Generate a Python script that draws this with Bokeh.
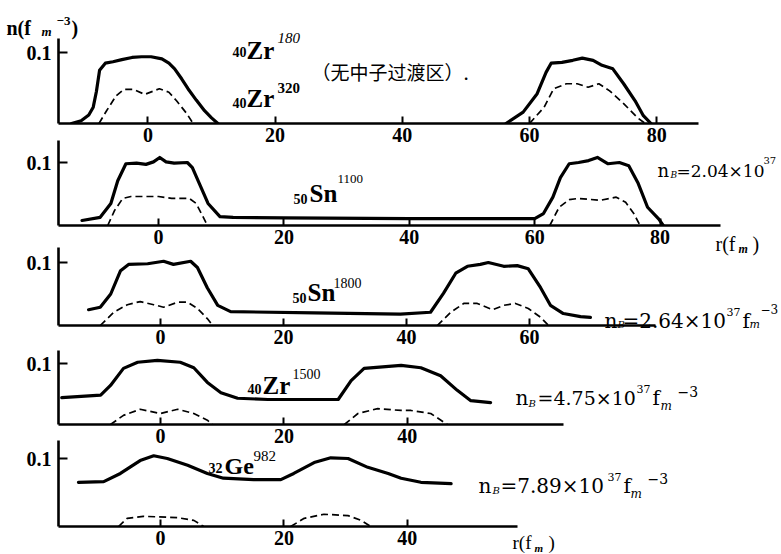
from bokeh.plotting import figure
from bokeh.models import Range1d, FixedTicker, Label, GridBox
from bokeh.embed import file_html
from bokeh.resources import INLINE

# ---------------- data (r in fm, n in fm^-3) ----------------
# Panel 1: 40Zr180 (solid), 40Zr320 (dashed) - no neutron transition region
zr180_r_a = [-12.0, -10.5, -9.3, -8.6, -8.1, -7.6, -6.7, -5.5, -4.1, -2.5, -1.0, 0.5, 2.2, 3.3, 4.2, 5.3, 6.3, 7.6, 8.9, 10.0, 11.0]
zr180_n_a = [0.0, 0.004, 0.012, 0.023, 0.045, 0.075, 0.085, 0.087, 0.090, 0.093, 0.094, 0.094, 0.091, 0.085, 0.077, 0.063, 0.049, 0.033, 0.018, 0.008, 0.0]
zr180_r_b = [56.3, 59.0, 61.2, 62.6, 63.4, 65.1, 66.8, 68.3, 70.0, 71.4, 73.1, 74.8, 76.6, 77.9, 79.1]
zr180_n_b = [0.0, 0.016, 0.042, 0.072, 0.085, 0.086, 0.089, 0.092, 0.089, 0.082, 0.077, 0.056, 0.032, 0.011, 0.0]
zr320_r_a = [-7.7, -6.5, -5.0, -3.8, -2.3, -0.5, 1.8, 3.3, 4.5, 6.1, 7.1]
zr320_n_a = [0.0, 0.018, 0.039, 0.048, 0.048, 0.041, 0.049, 0.044, 0.032, 0.014, 0.0]
zr320_r_b = [60.0, 62.3, 63.8, 65.8, 67.5, 69.2, 70.9, 72.6, 74.8, 77.0, 78.2]
zr320_n_b = [0.0, 0.023, 0.049, 0.056, 0.056, 0.051, 0.056, 0.046, 0.028, 0.008, 0.0]

# Panel 2: 50Sn1100, nB = 2.04e37
sn1100_r = [-12.2, -9.3, -7.6, -6.5, -5.2, -3.5, -2.0, -0.8, 0.2, 1.2, 2.5, 4.6, 5.4, 6.5, 7.9, 9.8, 11.9, 20.0, 40.0, 60.0, 61.4, 62.9, 64.1, 65.5, 67.0, 68.6, 70.0, 71.7, 73.5, 75.0, 76.5, 78.0, 79.8, 80.5]
sn1100_n = [0.008, 0.013, 0.035, 0.071, 0.098, 0.099, 0.097, 0.101, 0.108, 0.101, 0.099, 0.100, 0.092, 0.067, 0.035, 0.014, 0.013, 0.012, 0.011, 0.011, 0.019, 0.045, 0.076, 0.098, 0.100, 0.103, 0.108, 0.098, 0.100, 0.095, 0.067, 0.029, 0.010, 0.0]
sn1100d_r_a = [-8.1, -7.0, -5.7, -4.4, 0.0, 2.1, 4.9, 6.0, 7.0, 7.8]
sn1100d_n_a = [0.0, 0.024, 0.043, 0.046, 0.046, 0.043, 0.043, 0.035, 0.016, 0.0]
sn1100d_r_b = [62.4, 63.9, 65.5, 67.0, 70.5, 73.0, 74.5, 75.8, 76.8]
sn1100d_n_b = [0.0, 0.029, 0.041, 0.043, 0.040, 0.045, 0.037, 0.019, 0.0]

# Panel 3: 50Sn1800, nB = 2.64e37
sn1800_r = [-11.7, -9.8, -8.1, -6.5, -5.2, -2.1, 0.5, 2.1, 4.9, 6.0, 7.6, 9.3, 11.4, 25.0, 39.0, 43.9, 46.0, 48.0, 49.9, 52.0, 53.3, 55.8, 58.0, 59.8, 61.8, 63.4, 65.5, 68.3, 69.9]
sn1800_n = [0.025, 0.029, 0.050, 0.087, 0.097, 0.098, 0.102, 0.097, 0.102, 0.092, 0.060, 0.032, 0.022, 0.020, 0.018, 0.021, 0.051, 0.083, 0.094, 0.097, 0.100, 0.094, 0.095, 0.090, 0.060, 0.032, 0.019, 0.014, 0.013]
sn1800d_r_a = [-9.8, -7.6, -5.4, -3.3, -1.1, 0.5, 2.8, 4.4, 6.0, 7.6, 8.5]
sn1800d_n_a = [0.0, 0.021, 0.033, 0.038, 0.033, 0.029, 0.037, 0.037, 0.027, 0.011, 0.0]
sn1800d_r_b = [45.0, 47.2, 49.3, 51.5, 54.0, 55.8, 57.7, 59.8, 61.8, 63.1]
sn1800d_n_b = [0.0, 0.021, 0.035, 0.035, 0.025, 0.032, 0.035, 0.027, 0.013, 0.0]

# Panel 4: 40Zr1500, nB = 4.75e37
zr1500_r = [-16.0, -9.7, -8.1, -6.0, -3.7, -0.5, 3.2, 5.4, 7.6, 9.8, 12.5, 17.4, 28.8, 30.9, 33.0, 39.0, 42.2, 45.4, 48.1, 50.3, 53.5]
zr1500_n = [0.044, 0.048, 0.064, 0.092, 0.102, 0.105, 0.102, 0.093, 0.069, 0.052, 0.043, 0.041, 0.041, 0.072, 0.092, 0.097, 0.093, 0.080, 0.056, 0.039, 0.036]
zr1500d_r_a = [-8.1, -6.0, -3.3, 0.0, 2.8, 5.4, 7.6, 8.4]
zr1500d_n_a = [0.0, 0.015, 0.025, 0.018, 0.025, 0.018, 0.007, 0.0]
zr1500d_r_b = [29.8, 32.0, 35.2, 39.0, 40.6, 43.8, 46.5]
zr1500d_n_b = [0.0, 0.018, 0.026, 0.023, 0.023, 0.018, 0.0]

# Panel 5: 32Ge982, nB = 7.89e37
ge982_r = [-13.3, -9.2, -6.5, -3.3, -1.1, 1.1, 4.4, 7.6, 10.2, 15.1, 19.5, 21.6, 24.9, 27.6, 30.4, 33.6, 36.9, 39.0, 42.2, 47.1]
ge982_n = [0.065, 0.066, 0.078, 0.097, 0.104, 0.100, 0.090, 0.078, 0.071, 0.069, 0.069, 0.078, 0.094, 0.101, 0.100, 0.087, 0.078, 0.071, 0.065, 0.063]
ge982d_r_a = [-6.8, -5.4, -2.8, 2.8, 5.4, 7.0]
ge982d_n_a = [0.0, 0.012, 0.015, 0.013, 0.009, 0.0]
ge982d_r_b = [21.1, 23.3, 26.5, 30.4, 32.5, 34.1]
ge982d_n_b = [0.0, 0.012, 0.018, 0.016, 0.009, 0.0]

ticks_p1 = [0, 20, 40, 60, 80]
ticks_p2 = [0, 20, 40, 60, 80]
ticks_p3 = [0, 20, 40, 60]
ticks_p4 = [0, 20, 40]
ticks_p5 = [0, 20, 40]
y_tick = [0.1]

# ---------------- layout geometry (page pixels) ----------------
W = 781
H = 554
LEFT = 58
SERIF = "Liberation Serif"
DJ = "DejaVu Serif"
CJK = "Noto Sans CJK SC"

# grid row boundaries; panels overlap each other slightly (transparent fills)
bounds_y = [0, 140, 155, 240, 255, 340, 355, 440, 455, 554]
row_heights = [b - a for a, b in zip(bounds_y[:-1], bounds_y[1:])]

panels = [
    dict(row=0, span=2, base=123, ys=710.0, xs=6.36, x0=-14.06, xend=86.6, ytop=0.120, ticks=ticks_p1),
    dict(row=1, span=3, base=225, ys=630.0, xs=6.27, x0=-15.95, xend=89.6, ytop=0.135, ticks=ticks_p2),
    dict(row=3, span=3, base=325, ys=630.0, xs=6.15, x0=-16.59, xend=80.5, ytop=0.124, ticks=ticks_p3),
    dict(row=5, span=3, base=424, ys=610.0, xs=6.17, x0=-16.53, xend=65.3, ytop=0.121, ticks=ticks_p4),
    dict(row=7, span=2, base=526, ys=680.0, xs=6.17, x0=-16.53, xend=57.9, ytop=0.126, ticks=ticks_p5),
]


def no_align(p):
    if "frame_align" in p.properties():
        p.frame_align = False


def make_fig(sp):
    top = bounds_y[sp["row"]]
    bottom = bounds_y[sp["row"] + sp["span"]]
    h = bottom - top
    yend = (sp["base"] - top) / sp["ys"]
    p = figure(width=W, height=h, output_backend="svg", toolbar_location=None,
               x_range=Range1d(sp["x0"], sp["x0"] + (W - LEFT) / sp["xs"]),
               y_range=Range1d(0, yend),
               min_border_left=LEFT, min_border_right=0, min_border_top=0,
               min_border_bottom=bottom - sp["base"])
    no_align(p)
    p.grid.visible = False
    p.outline_line_color = None
    p.background_fill_alpha = 0
    p.border_fill_alpha = 0
    xa = p.xaxis[0]
    xa.ticker = FixedTicker(ticks=sp["ticks"])
    xa.bounds = (sp["x0"], sp["xend"])
    xa.axis_line_width = 2.6
    xa.major_tick_line_width = 2
    xa.major_tick_in = 7
    xa.major_tick_out = 0
    xa.minor_tick_line_color = None
    xa.major_label_text_font = SERIF
    xa.major_label_text_font_style = "bold"
    xa.major_label_text_font_size = "20px"
    xa.major_label_standoff = 4
    xa.major_label_text_color = "black"
    ya = p.yaxis[0]
    ya.ticker = FixedTicker(ticks=y_tick)
    ya.bounds = (0, min(sp["ytop"], yend))
    ya.axis_line_width = 2.6
    ya.major_tick_line_width = 2
    ya.major_tick_in = 9
    ya.major_tick_out = 0
    ya.minor_tick_line_color = None
    ya.major_label_text_font = SERIF
    ya.major_label_text_font_style = "bold"
    ya.major_label_text_font_size = "20px"
    ya.major_label_standoff = 7
    ya.major_label_text_color = "black"
    return p


def solid(p, r, n):
    p.line(r, n, line_color="black", line_width=3.2, line_join="round", line_cap="round")


def dashed(p, r, n):
    p.line(r, n, line_color="black", line_width=1.7, line_dash="7 4")


figs = [make_fig(sp) for sp in panels]
p1, p2, p3, p4, p5 = figs

solid(p1, zr180_r_a, zr180_n_a)
solid(p1, zr180_r_b, zr180_n_b)
dashed(p1, zr320_r_a, zr320_n_a)
dashed(p1, zr320_r_b, zr320_n_b)

solid(p2, sn1100_r, sn1100_n)
dashed(p2, sn1100d_r_a, sn1100d_n_a)
dashed(p2, sn1100d_r_b, sn1100d_n_b)

solid(p3, sn1800_r, sn1800_n)
dashed(p3, sn1800d_r_a, sn1800d_n_a)
dashed(p3, sn1800d_r_b, sn1800d_n_b)

solid(p4, zr1500_r, zr1500_n)
dashed(p4, zr1500d_r_a, zr1500d_n_a)
dashed(p4, zr1500d_r_b, zr1500d_n_b)

solid(p5, ge982_r, ge982_n)
dashed(p5, ge982d_r_a, ge982d_n_a)
dashed(p5, ge982d_r_b, ge982d_n_b)

# ---------------- transparent overlay carrying all annotations (page pixels) ----------------
ov = figure(width=W, height=H, output_backend="svg", toolbar_location=None,
            x_range=Range1d(0, W), y_range=Range1d(H, 0),
            x_axis_location=None, y_axis_location=None,
            min_border_left=0, min_border_right=0, min_border_top=0, min_border_bottom=0)
no_align(ov)
ov.grid.visible = False
ov.outline_line_color = None
ov.background_fill_alpha = 0
ov.border_fill_alpha = 0


def txt(px, py, text, size, font=SERIF, style="bold"):
    ov.add_layout(Label(x=px, y=py, text=text, text_font=font, text_font_size=f"{size}px",
                        text_font_style=style, text_color="black",
                        text_align="left", text_baseline="alphabetic"))


# axis title top-left
txt(6, 27, "n(f", 20)
txt(41, 31, "m", 13, style="bold italic")
txt(56, 20, "−3", 13)
txt(71, 27, ")", 20)
# panel 1
txt(232, 51, "40", 14)
txt(246, 50, "Zr", 25)
txt(277, 37, "180", 15, style="italic")
txt(232, 102, "40", 14)
txt(246, 98, "Zr", 25)
txt(277, 87, "320", 15)
txt(311, 71, "（无中子过渡区）.", 19, font=CJK, style="normal")
# panel 2
txt(293, 198, "50", 14)
txt(309, 193, "Sn", 25)
txt(337, 178, "1100", 13, style="normal")
txt(657, 170, "n", 18, font=DJ, style="normal")
txt(670, 174, "B", 9, font=DJ, style="italic")
txt(676, 170, "=2.04×10", 17, font=DJ, style="normal")
txt(763, 160, "37", 10, font=DJ, style="normal")
txt(715, 243, "r(f", 20, style="normal")
txt(738, 248, "m", 12, style="bold italic")
txt(752, 243, ")", 20, style="normal")
# panel 3
txt(604, 320, "n", 20, font=DJ, style="normal")
txt(617, 324, "B", 10, font=DJ, style="italic")
txt(622, 320, "=2.64×10", 20, font=DJ, style="normal")
txt(726, 311, "37", 11, font=DJ, style="normal")
txt(742, 320, "f", 20, font=DJ, style="normal")
txt(749, 324, "m", 11, font=DJ, style="italic")
txt(760, 308, "−3", 12, font=DJ, style="normal")
txt(292, 297, "50", 14)
txt(307, 292, "Sn", 25)
txt(333, 282, "1800", 14, style="normal")
# panel 4
txt(247, 388, "40", 14)
txt(262, 385, "Zr", 25)
txt(292, 373, "1500", 14, style="normal")
txt(515, 397, "n", 20, font=DJ, style="normal")
txt(528, 403, "B", 10, font=DJ, style="italic")
txt(537, 397, "=4.75×10", 19, font=DJ, style="normal")
txt(636, 388, "37", 11, font=DJ, style="normal")
txt(652, 397, "f", 20, font=DJ, style="normal")
txt(660, 405, "m", 12, font=DJ, style="italic")
txt(677, 391, "−3", 14, font=DJ, style="normal")
# panel 5
txt(208, 467, "32", 14)
txt(224, 465, "Ge", 24)
txt(253, 455, "982", 15, style="normal")
txt(478, 485, "n", 20, font=DJ, style="normal")
txt(492, 490, "B", 10, font=DJ, style="italic")
txt(500, 485, "=7.89×10", 20, font=DJ, style="normal")
txt(607, 476, "37", 11, font=DJ, style="normal")
txt(623, 485, "f", 20, font=DJ, style="normal")
txt(630, 493, "m", 12, font=DJ, style="italic")
txt(647, 478, "−3", 14, font=DJ, style="normal")
txt(512, 542, "r(f", 19, style="normal")
txt(534, 547, "m", 11, style="bold italic")
txt(548, 542, ")", 19, style="normal")

children = [(f, sp["row"], 0, sp["span"], 1) for f, sp in zip(figs, panels)]
children.append((ov, 0, 0, len(row_heights), 1))
layout = GridBox(children=children, rows=[f"{h}px" for h in row_heights], cols=[f"{W}px"], spacing=0)
open("out.html", "w").write(file_html(layout, INLINE))
